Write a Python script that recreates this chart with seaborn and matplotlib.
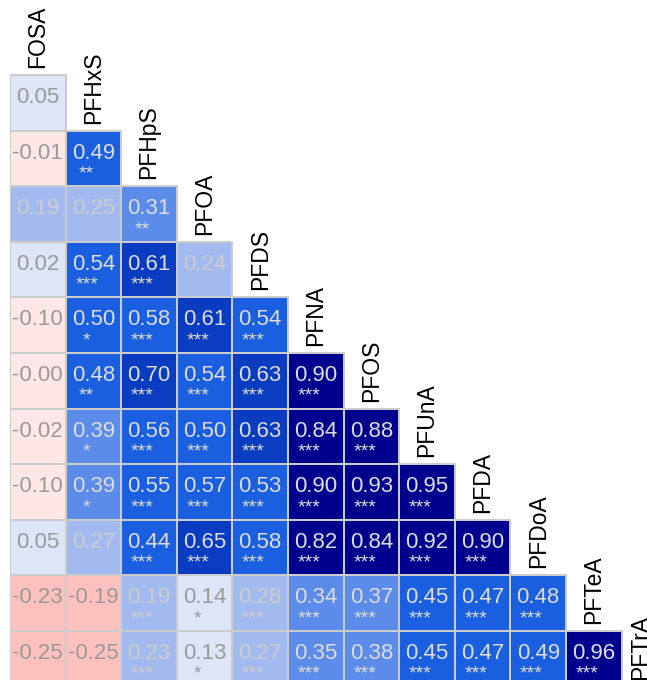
import numpy as np
import pandas as pd
import seaborn as sns
import matplotlib.pyplot as plt
from matplotlib.colors import ListedColormap, BoundaryNorm, to_rgba

plt.rcParams['font.family'] = ['Liberation Sans', 'DejaVu Sans']

# compound names (diagonal labels)
names = ["FOSA", "PFHxS", "PFHpS", "PFOA", "PFDS", "PFNA",
         "PFOS", "PFUnA", "PFDA", "PFDoA", "PFTeA", "PFTrA"]

# lower triangle correlations, row by row (row i vs columns 0..i-1)
r_rows = [
    [0.05],
    [-0.01, 0.49],
    [0.19, 0.25, 0.31],
    [0.02, 0.54, 0.61, 0.24],
    [-0.10, 0.50, 0.58, 0.61, 0.54],
    [-0.004, 0.48, 0.70, 0.54, 0.63, 0.90],
    [-0.02, 0.39, 0.56, 0.50, 0.63, 0.84, 0.88],
    [-0.10, 0.39, 0.55, 0.57, 0.53, 0.90, 0.93, 0.95],
    [0.05, 0.27, 0.44, 0.65, 0.58, 0.82, 0.84, 0.92, 0.90],
    [-0.23, -0.19, 0.19, 0.14, 0.28, 0.34, 0.37, 0.45, 0.47, 0.48],
    [-0.25, -0.25, 0.23, 0.13, 0.27, 0.35, 0.38, 0.45, 0.47, 0.49, 0.96],
]

# significance stars
star_rows = [
    [""],
    ["", "**"],
    ["", "", "**"],
    ["", "***", "***", ""],
    ["", "*", "***", "***", "***"],
    ["", "**", "***", "***", "***", "***"],
    ["", "*", "***", "***", "***", "***", "***"],
    ["", "*", "***", "***", "***", "***", "***", "***"],
    ["", "", "***", "***", "***", "***", "***", "***", "***"],
    ["", "", "***", "*", "***", "***", "***", "***", "***", "***"],
    ["", "", "***", "*", "***", "***", "***", "***", "***", "***", "***"],
]

n = len(names)
mat = np.full((n, n), np.nan)
for i, row in enumerate(r_rows, start=1):
    mat[i, :len(row)] = row
df = pd.DataFrame(mat, index=names, columns=names)

# binned colour scale
bounds = [-1, -0.15, 0, 0.15, 0.3, 0.4, 0.6, 0.8, 1]
colors = ['#ffc1bd', '#ffe7e6', '#dde6f8', '#a3baf0',
          '#5c8ce9', '#1a5fdf', '#0a3cc2', '#00008f']
cmap = ListedColormap(colors)
norm = BoundaryNorm(bounds, cmap.N)

fig = plt.figure(figsize=(6.47, 6.80), dpi=100)
ax = fig.add_axes([10 / 647, -6.6 / 680, 667.2 / 647, 667.2 / 680])
sns.heatmap(df, ax=ax, cmap=cmap, norm=norm, cbar=False,
            linewidths=1.3, linecolor='#cccccc',
            xticklabels=False, yticklabels=False)
ax.set_xticks([])
ax.set_yticks([])

# only outline the cells that hold a value
mesh = ax.collections[0]
edge = np.array([to_rgba('#cccccc') if not np.isnan(v) else (0, 0, 0, 0)
                 for v in mat.ravel()])
mesh.set_edgecolor(edge)


def text_color(v):
    if v < 0.15:
        return '#999999'
    if v < 0.3:
        return '#cccccc'
    return '#dddddd'


for i, row in enumerate(r_rows, start=1):
    for j, v in enumerate(row):
        c = text_color(v)
        ax.text(j + 0.5, i + 0.505, f"{v:.2f}", ha='center', va='baseline',
                fontsize=16, color=c)
        s = star_rows[i - 1][j]
        if s:
            ax.text(j + 0.38, i + 0.86, s, ha='center', va='baseline',
                    fontsize=14, color=c)

# names on the diagonal (last one kept inside the picture)
for k, name in enumerate(names):
    x = k + 0.5 if k < n - 1 else k + 0.34
    ax.text(x, k + 0.875, name, rotation=90, ha='center', va='bottom',
            fontsize=16.5, color='black')

fig.savefig('out.png', dpi=100)
